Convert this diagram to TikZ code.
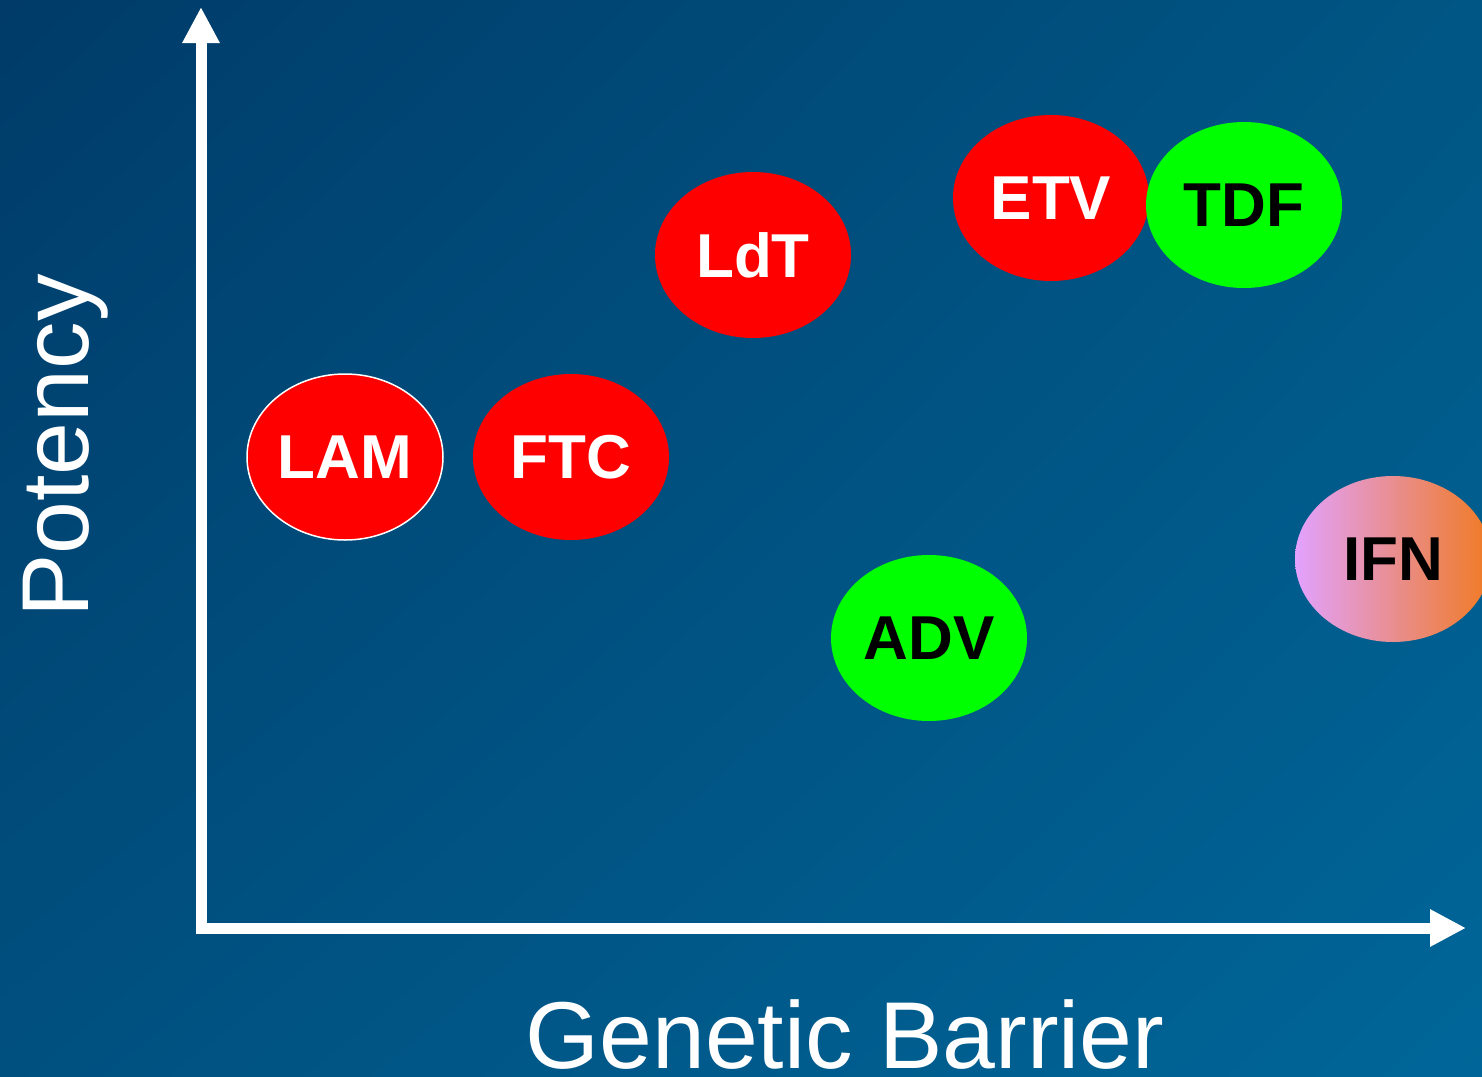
\documentclass[tikz,border=0pt]{standalone}
\usepackage{fontspec}
\setmainfont{Liberation Sans}
\usetikzlibrary{arrows.meta,shapes.geometric,shadings}
\definecolor{bgUL}{HTML}{003B69}
\definecolor{bgUR}{HTML}{005684}
\definecolor{bgLL}{HTML}{00507F}
\definecolor{bgLR}{HTML}{006699}
\definecolor{ifnL}{HTML}{E2A2FF}
\definecolor{ifnR}{HTML}{F07A22}
\tikzset{
  drug/.style={ellipse, minimum width=196pt, minimum height=166pt, inner sep=0pt,
    font=\fontsize{62}{72}\selectfont\bfseries},
  reddrug/.style={drug, fill=red, text=white},
  greendrug/.style={drug, fill=green, text=black},
  axis/.style={draw=white, line width=11pt, line join=miter,
    {Triangle[length=36pt,width=35pt]}-{Triangle[length=36pt,width=35pt]}},
  axislabel/.style={text=white, font=\fontsize{95}{110}\selectfont, inner sep=0pt}
}
\begin{document}
\begin{tikzpicture}[x=1pt,y=-1pt]
\useasboundingbox (0,0) rectangle (1482,1076);
\clip (0,0) rectangle (1482,1076);
\shade[upper left=bgUL, upper right=bgUR, lower left=bgLL, lower right=bgLR]
  (0,0) rectangle (1482,1076);
% axes
\coordinate (ytop) at (201,7);
\coordinate (o) at (201,928);
\coordinate (xend) at (1466,928);
\draw[axis] (ytop) -- (o) -- (xend);
% axis labels
\node[axislabel, anchor=base, rotate=90] (ylab) at (88,446) {Potency};
\node[axislabel, anchor=base] (xlab) at (845,1068) {Genetic Barrier};
% drugs
\node[reddrug, draw=white, line width=1.5pt] (lam) at (345,457) {LAM};
\node[reddrug] (ftc) at (571,457) {FTC};
\node[reddrug] (ldt) at (753,255) {LdT};
\node[reddrug] (etv) at (1051,198) {ETV};
\node[greendrug] (tdf) at (1244,205) {TDF};
\node[greendrug] (adv) at (929,638) {ADV};
\node[drug, left color=ifnL, right color=ifnR, text=black] (ifn) at (1393,559) {IFN};
\end{tikzpicture}
\end{document}
